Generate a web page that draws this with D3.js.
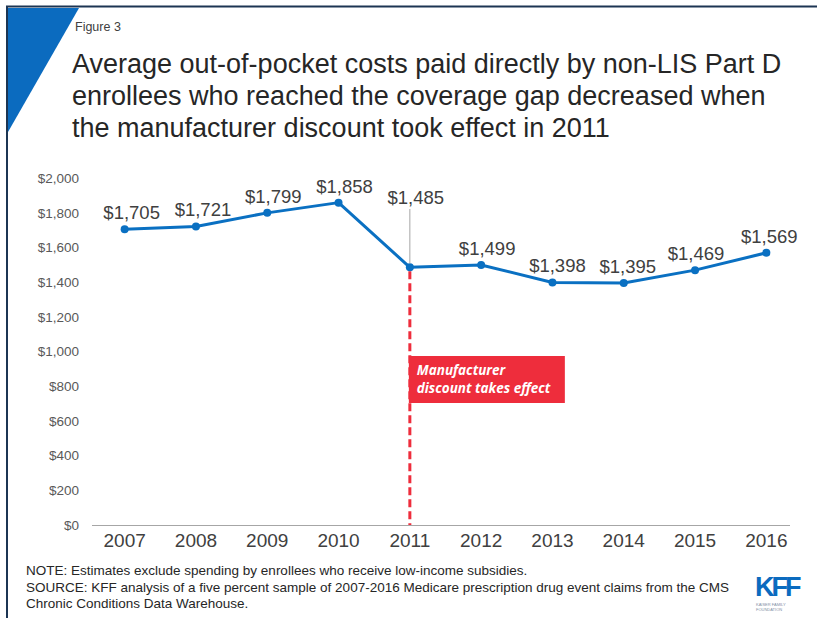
<!DOCTYPE html>
<html>
<head>
<meta charset="utf-8">
<script src="https://cdn.jsdelivr.net/npm/d3@7"></script>
<style>
  body { margin: 0; background: #fff; }
  svg { font-family: "Liberation Sans", Arial, sans-serif; display: block; }
</style>
</head>
<body>
<svg id="chart" width="817" height="618"></svg>
<script>
const years = ["2007", "2008", "2009", "2010", "2011", "2012", "2013", "2014", "2015", "2016"];
const costs = [1705, 1721, 1799, 1858, 1485, 1499, 1398, 1395, 1469, 1569];
const yTicks = [0, 200, 400, 600, 800, 1000, 1200, 1400, 1600, 1800, 2000];
const titleLines = [
    "Average out-of-pocket costs paid directly by non-LIS Part D",
    "enrollees who reached the coverage gap decreased when",
    "the manufacturer discount took effect in 2011"
];
const noteLines = [
    "NOTE: Estimates exclude spending by enrollees who receive low-income subsidies.",
    "SOURCE: KFF analysis of a five percent sample of 2007-2016 Medicare prescription drug event claims from the CMS",
    "Chronic Conditions Data Warehouse."
];
const eventYear = "2011";
const eventLabel = ["Manufacturer", "discount takes effect"];

let svg = d3.select("#chart");

// frame + corner triangle
svg.append("line").attr("x1", 6).attr("x2", 817).attr("y1", 6.5).attr("y2", 6.5)
    .attr("stroke", "#1c3553").attr("stroke-width", 2);
svg.append("line").attr("x1", 7).attr("x2", 7).attr("y1", 6).attr("y2", 618)
    .attr("stroke", "#1c3553").attr("stroke-width", 2);
svg.append("path").attr("d", "M8,8 L79,8 L8,132 Z").attr("fill", "#0b6bbf");

svg.append("text").attr("x", 75).attr("y", 31).attr("font-size", 12.5)
    .attr("fill", "#404040").text("Figure 3");

svg.append("g").selectAll("text").data(titleLines).enter().append("text")
    .attr("x", 72).attr("y", (d, i) => 73 + i * 32)
    .attr("font-size", 27).attr("fill", "#262626").text(d => d);

// scales
let x = d3.scaleBand().domain(years).range([89, 802]);
let y = d3.scaleLinear().domain([0, 2000]).range([525, 178]);
let cx = d => x(d) + x.bandwidth() / 2;

// y axis labels
let yAxis = svg.append("g").attr("transform", "translate(79,0)")
    .call(d3.axisLeft(y).tickValues(yTicks).tickSize(0).tickPadding(0)
        .tickFormat(d => "$" + d3.format(",")(d)));
yAxis.select(".domain").remove();
yAxis.selectAll("text").attr("font-size", 13.5).attr("fill", "#595959")
    .attr("font-family", "Liberation Sans, Arial, sans-serif");

// x axis
let xAxis = svg.append("g").attr("transform", "translate(0," + y(0) + ")")
    .call(d3.axisBottom(x).tickSize(0).tickPadding(9));
xAxis.select(".domain").attr("d", "M92,0.5H790").attr("stroke", "#a6a6a6");
xAxis.selectAll("text").attr("font-size", 19).attr("fill", "#404040")
    .attr("font-family", "Liberation Sans, Arial, sans-serif");

// event marker
svg.append("line")
    .attr("x1", cx(eventYear)).attr("x2", cx(eventYear))
    .attr("y1", y(costs[years.indexOf(eventYear)]) + 4).attr("y2", y(0))
    .attr("stroke", "#ee2d3c").attr("stroke-width", 3).attr("stroke-dasharray", "8,4");

svg.append("rect").attr("x", cx(eventYear) - 1).attr("y", 356)
    .attr("width", 156).attr("height", 47).attr("fill", "#ee2d3c");
svg.append("g").selectAll("text").data(eventLabel).enter().append("text")
    .attr("x", cx(eventYear) + 7).attr("y", (d, i) => 375 + i * 18)
    .attr("font-family", "Open Sans, Lato, sans-serif").attr("font-style", "italic")
    .attr("font-weight", "bold").attr("font-size", 13.5).attr("fill", "#fff")
    .text(d => d);

// line
let line = d3.line().x((d, i) => cx(years[i])).y(d => y(d));
svg.append("path").datum(costs).attr("d", line)
    .attr("fill", "none").attr("stroke", "#0a70c2").attr("stroke-width", 3)
    .attr("stroke-linejoin", "round");
svg.append("g").selectAll("circle").data(costs).enter().append("circle")
    .attr("cx", (d, i) => cx(years[i])).attr("cy", d => y(d)).attr("r", 4)
    .attr("fill", "#0a70c2");

// leader for 2011 label
let ei = years.indexOf(eventYear);
svg.append("line").attr("x1", cx(eventYear)).attr("x2", cx(eventYear))
    .attr("y1", 209).attr("y2", y(costs[ei]) - 4)
    .attr("stroke", "#a6a6a6").attr("stroke-width", 1);

// value labels
let labelDx = [7, 7, 6, 6, 6, 6, 5, 4, 1, 3];
svg.append("g").selectAll("text").data(costs).enter().append("text")
    .attr("x", (d, i) => cx(years[i]) + labelDx[i])
    .attr("y", (d, i) => i === ei ? 204 : y(d) - 10)
    .attr("text-anchor", "middle").attr("font-size", 18.5).attr("fill", "#404040")
    .text(d => "$" + d3.format(",")(d));

// footer
svg.append("g").selectAll("text").data(noteLines).enter().append("text")
    .attr("x", 26).attr("y", (d, i) => 575 + i * 16.5)
    .attr("font-size", 13.5).attr("fill", "#262626").text(d => d);

// logo
let logo = svg.append("g").attr("transform", "translate(755,573)");
logo.append("text").attr("x", 0).attr("y", 23).attr("font-size", 27)
    .attr("font-weight", "bold").attr("fill", "#0b6bbf")
    .attr("letter-spacing", -3).text("KFF");
logo.append("text").attr("x", 1).attr("y", 33).attr("font-size", 4)
    .attr("fill", "#7f8fa6").text("KAISER FAMILY");
logo.append("text").attr("x", 1).attr("y", 38).attr("font-size", 4)
    .attr("fill", "#7f8fa6").text("FOUNDATION");
</script>
</body>
</html>
